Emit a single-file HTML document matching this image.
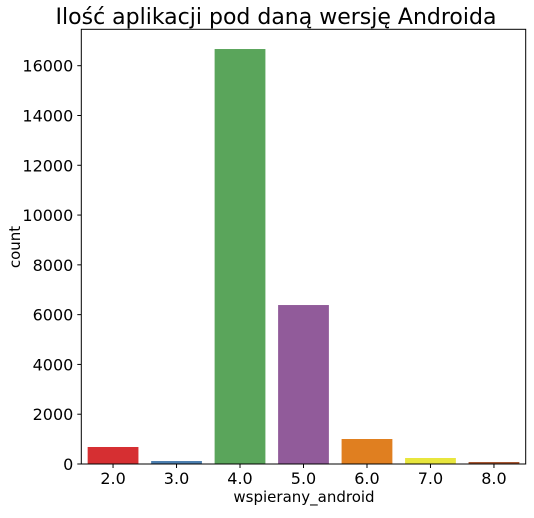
<!DOCTYPE html>
<html><head><meta charset="utf-8"><style>
body{margin:0;background:#fff;}
svg text{font-family:"DejaVu Sans","Liberation Sans",sans-serif;fill:#000;}
</style></head><body>
<svg id="chart" width="534" height="513" xmlns="http://www.w3.org/2000/svg">
<text x="276" y="24" font-size="22" text-anchor="middle">Ilość aplikacji pod daną wersję Androida</text>
<g id="bars"></g>
<g id="yticks"></g>
<g id="xticks"></g>
<rect x="81.3" y="29.3" width="444.4" height="434.7" fill="none" stroke="#000" stroke-width="1"/>
<text x="304" y="502" font-size="15" text-anchor="middle">wspierany_android</text>
<text transform="translate(20,247) rotate(-90)" font-size="15" text-anchor="middle">count</text>
</svg>
<script>
const categories=["2.0","3.0","4.0","5.0","6.0","7.0","8.0"];
const counts=[683,120,16670,6386,1004,241,80];
const colors=["#d62f32","#4c7fb0","#5aa55b","#915b9a","#e07f20","#e8e63d","#a65530"];
const yTicks=[0,2000,4000,6000,8000,10000,12000,14000,16000];
const L=81.3,R=525.7,B=464,pxPer=(464-65.7)/16000;
const y=v=>B-v*pxPer;
const step=(R-L)/categories.length;
const x=i=>L+step*(i+0.5);
const NS="http://www.w3.org/2000/svg";
const bars=document.getElementById('bars'),yt=document.getElementById('yticks'),xt=document.getElementById('xticks');
categories.forEach((c,i)=>{
 const r=document.createElementNS(NS,'rect');
 const w=step*0.8;
 r.setAttribute('x',x(i)-w/2);r.setAttribute('width',w);
 r.setAttribute('y',y(counts[i]));r.setAttribute('height',B-y(counts[i]));
 r.setAttribute('fill',colors[i]);
 
 
 bars.appendChild(r);
 const l=document.createElementNS(NS,'line');
 l.setAttribute('x1',x(i));l.setAttribute('x2',x(i));l.setAttribute('y1',B);l.setAttribute('y2',B+4);l.setAttribute('stroke','#000');
 
 
 xt.appendChild(l);
 const t=document.createElementNS(NS,'text');
 t.setAttribute('x',x(i));t.setAttribute('y',B+20);t.setAttribute('font-size','16');t.setAttribute('text-anchor','middle');
 t.textContent=c;
 
 
 xt.appendChild(t);
});
yTicks.forEach(v=>{
 const l=document.createElementNS(NS,'line');
 l.setAttribute('x1',L-4);l.setAttribute('x2',L);l.setAttribute('y1',y(v));l.setAttribute('y2',y(v));l.setAttribute('stroke','#000');
 
 
 yt.appendChild(l);
 const t=document.createElementNS(NS,'text');
 t.setAttribute('x',L-8);t.setAttribute('y',y(v)+6);t.setAttribute('font-size','16');t.setAttribute('text-anchor','end');
 t.textContent=v;
 
 
 yt.appendChild(t);
});
</script>
</body></html>
